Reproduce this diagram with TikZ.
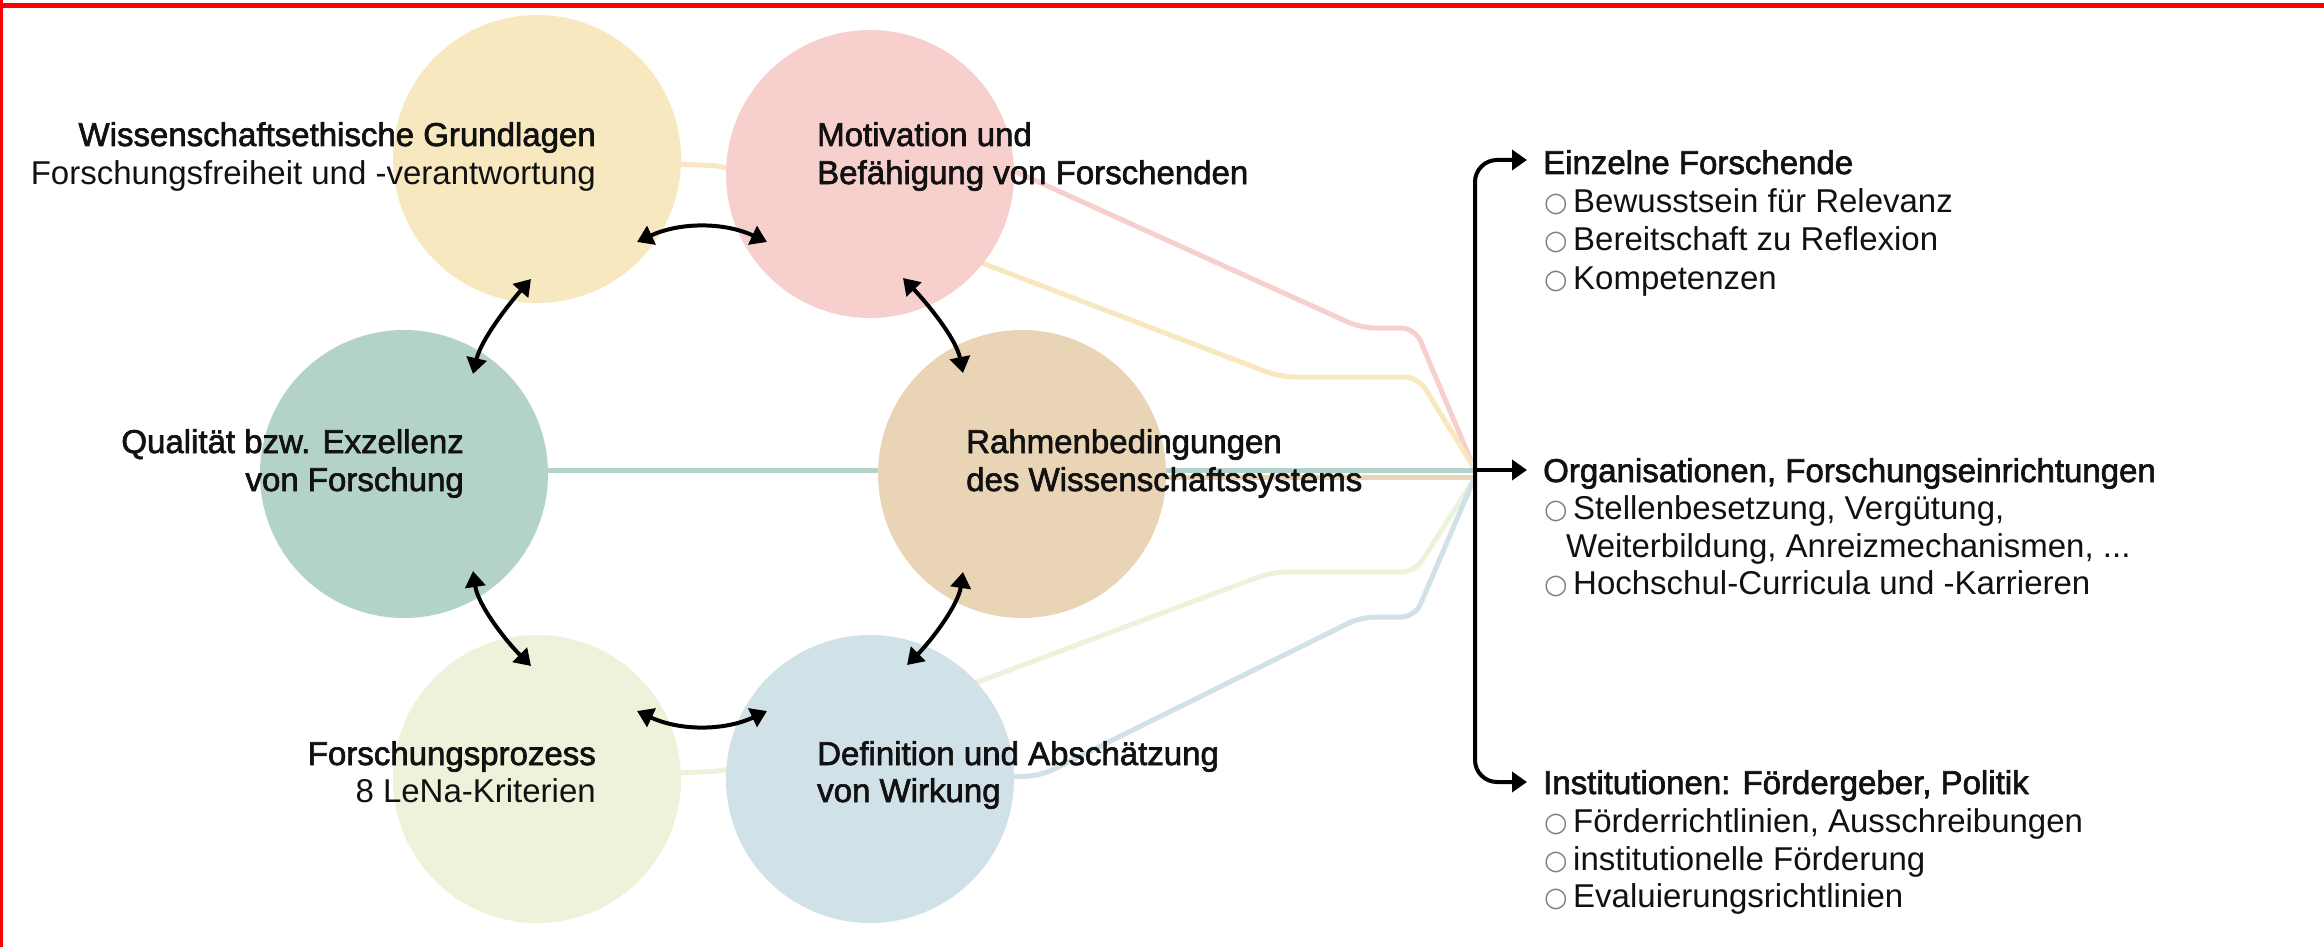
\documentclass[tikz,border=0pt]{standalone}
\usepackage{fontspec}
\setmainfont{Liberation Sans}
\newfontfamily\medfont{Liberation Sans}[FakeBold=2]
\newfontfamily\bulfont{DejaVu Sans}
\usetikzlibrary{arrows.meta}
\pgfdeclarelayer{bg}
\pgfsetlayers{bg,main}
\definecolor{cyel}{HTML}{F8E8C0}
\definecolor{cpink}{HTML}{F7D0CE}
\definecolor{cteal}{HTML}{B3D3C9}
\definecolor{ctan}{HTML}{E9D4B5}
\definecolor{cgrn}{HTML}{EDF2DA}
\definecolor{cblu}{HTML}{D0E1E8}
\definecolor{txt}{HTML}{111111}
\newcommand{\bul}{\makebox[30pt][l]{\hspace*{1pt}\raisebox{0.5pt}{\color{gray}\bulfont\fontsize{27}{27}\selectfont ○}}}
\begin{document}
\begin{tikzpicture}[x=1pt,y=-1pt,
  circ/.style={circle, minimum size=288pt, inner sep=0pt, draw=none},
  med/.style={inner sep=0pt, text=txt, font=\medfont\fontsize{33}{38}\selectfont},
  reg/.style={inner sep=0pt, text=txt, font=\fontsize{33}{38}\selectfont},
  rmed/.style={inner sep=0pt, text=txt, anchor=base west, font=\medfont\fontsize{33}{38}\selectfont},
  rreg/.style={inner sep=0pt, text=txt, anchor=base west, font=\fontsize{33}{38}\selectfont},
  feed/.style={line width=5pt, rounded corners=14pt},
  dbl/.style={line width=4pt, {Triangle[length=16pt,width=20pt]}-{Triangle[length=16pt,width=20pt]}},
  brk/.style={line width=4pt, rounded corners=22pt},
]
\useasboundingbox (0,0) rectangle (2324,947);
% red frame
\draw[red, line width=5.5pt] (0,5.3) -- (2324,5.3);
\draw[red, line width=3.4pt] (1.7,0) -- (1.7,947);

% circles
\node[circ, fill=cyel] (yel) at (537,159) {};
\node[circ, fill=cpink] (pnk) at (870,174) {};
\node[circ, fill=cteal] (tea) at (404,474) {};
\node[circ, fill=ctan] (tan) at (1022,474) {};
\node[circ, fill=cgrn] (grn) at (537,779) {};
\node[circ, fill=cblu] (blu) at (870,779) {};

% hub coordinates
\coordinate (hubA) at (1474,468);
\coordinate (hubT) at (1474,470);
\coordinate (hubN) at (1474,477);
\coordinate (hubB) at (1474,479);

% feeder lines (background)
\begin{pgfonlayer}{bg}
\draw[feed, cpink] (pnk.center) -- (990,160) -- (1361,328) -- (1415,328) -- (hubA);
\draw[feed, cyel] (yel.center) -- (725,166) -- (982,263) -- (1280,377) -- (1418,377) -- (hubA);
\draw[line width=5pt, cteal] (tea.center |- hubT) -- (hubT);
\draw[line width=5pt, ctan] (tan.center |- hubN) -- (hubN);
\draw[feed, cgrn] (grn.center) -- (725,771) -- (978,682) -- (1272,572) -- (1415,572) -- (hubB);
\draw[feed, cblu] (blu.center) -- (1040,776) -- (1361,617) -- (1415,617) -- (hubB);
\end{pgfonlayer}

% circle labels
\node[med, anchor=base east] (l1a) at (596,146) {Wissenschaftsethische Grundlagen};
\node[reg, anchor=base east] (l1b) at (596,184) {Forschungsfreiheit und -verantwortung};
\node[med, anchor=base west] (l2a) at (817,146) {Motivation und};
\node[med, anchor=base west] (l2b) at (817,184) {Befähigung von Forschenden};
\node[med, anchor=base east] (l3a) at (464,453) {Qualität bzw. Exzellenz};
\node[med, anchor=base east] (l3b) at (464,491) {von Forschung};
\node[med, anchor=base west] (l4a) at (966,453) {Rahmenbedingungen};
\node[med, anchor=base west] (l4b) at (966,491) {des Wissenschaftssystems};
\node[med, anchor=base east] (l5a) at (596,765) {Forschungsprozess};
\node[reg, anchor=base east] (l5b) at (596,802) {8 LeNa-Kriterien};
\node[med, anchor=base west] (l6a) at (817,765) {Definition und Abschätzung};
\node[med, anchor=base west] (l6b) at (817,802) {von Wirkung};

% double arrows
\coordinate (a1s) at (637,242); \coordinate (a1e) at (767,242);
\coordinate (a2s) at (531,279); \coordinate (a2e) at (473,374);
\coordinate (a3s) at (903,278); \coordinate (a3e) at (963,373);
\coordinate (a4s) at (473,571); \coordinate (a4e) at (531,666);
\coordinate (a5s) at (963,572); \coordinate (a5e) at (907,665);
\coordinate (a6s) at (637,711); \coordinate (a6e) at (767,711);
\draw[dbl] (a1s) .. controls (680,222) and (724,222) .. (a1e);
\draw[dbl] (a2s) .. controls (508,305) and (481,340) .. (a2e);
\draw[dbl] (a3s) .. controls (926,302) and (956,338) .. (a3e);
\draw[dbl] (a4s) .. controls (478,605) and (505,640) .. (a4e);
\draw[dbl] (a5s) .. controls (958,606) and (930,642) .. (a5e);
\draw[dbl] (a6s) .. controls (680,731) and (724,731) .. (a6e);

% bracket
\coordinate (t1) at (1527,160);
\coordinate (t2) at (1527,470);
\coordinate (t3) at (1527,782);
\coordinate (bj) at (1475,470);
\draw[brk, {Triangle[length=15pt,width=20pt]}-{Triangle[length=15pt,width=20pt]}] (t1) -- (1475,160) -- (1475,782) -- (t3);
\draw[line width=4pt, -{Triangle[length=15pt,width=20pt]}] (bj) -- (t2);

% right lists
\node[rmed] (h1) at (1543,174) {Einzelne Forschende};
\node[rreg] (h1a) at (1543,212) {\bul Bewusstsein für Relevanz};
\node[rreg] (h1b) at (1543,250) {\bul Bereitschaft zu Reflexion};
\node[rreg] (h1c) at (1543,289) {\bul Kompetenzen};
\node[rmed] (h2) at (1543,482) {Organisationen, Forschungseinrichtungen};
\node[rreg] (h2a) at (1543,519) {\bul Stellenbesetzung, Vergütung,};
\node[rreg] (h2b) at (1566,557) {Weiterbildung, Anreizmechanismen, ...};
\node[rreg] (h2c) at (1543,594) {\bul Hochschul-Curricula und -Karrieren};
\node[rmed] (h3) at (1543,794) {Institutionen: Fördergeber, Politik};
\node[rreg] (h3a) at (1543,832) {\bul Förderrichtlinien, Ausschreibungen};
\node[rreg] (h3b) at (1543,870) {\bul institutionelle Förderung};
\node[rreg] (h3c) at (1543,907) {\bul Evaluierungsrichtlinien};
\end{tikzpicture}
\end{document}
